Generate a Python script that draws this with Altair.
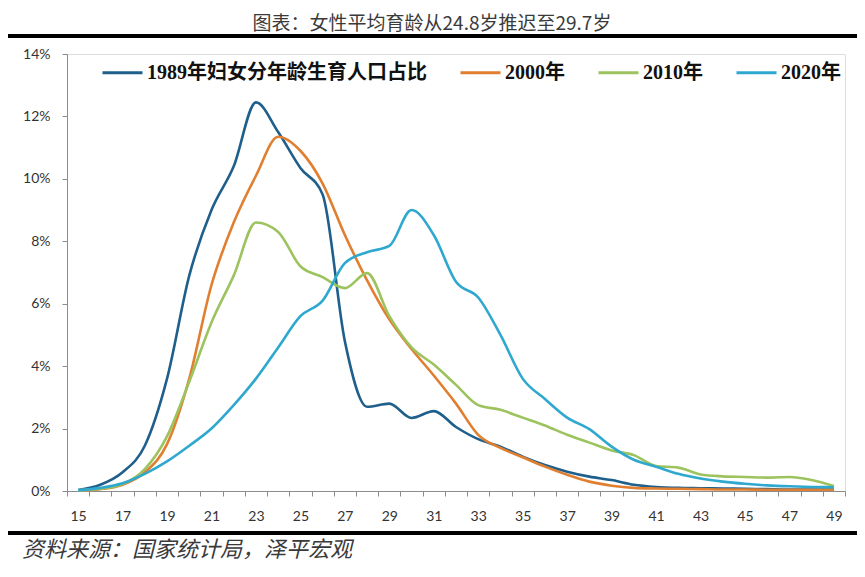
import altair as alt
import pandas as pd

# ---------------- data ----------------
ages = list(range(15, 50))
series_names = ["1989年妇女分年龄生育人口占比", "2000年", "2010年", "2020年"]
series_colors = ["#1F5F8B", "#E07F30", "#9CC35E", "#2FA8CF"]

# values in percent, ages 15..49
v1989 = [0.03, 0.2, 0.6, 1.45, 3.6, 6.9, 9.0, 10.4, 12.45, 11.5, 10.35, 9.5, 4.8, 2.7, 2.8,
         2.34, 2.56, 2.05, 1.66, 1.42, 1.1, 0.83, 0.62, 0.46, 0.35, 0.2, 0.13, 0.1, 0.09,
         0.08, 0.07, 0.06, 0.05, 0.05, 0.05]
v2000 = [0.02, 0.06, 0.2, 0.6, 1.5, 3.6, 6.6, 8.6, 10.1, 11.35, 10.9, 9.85, 8.2, 6.75, 5.5,
         4.55, 3.7, 2.8, 1.8, 1.38, 1.08, 0.78, 0.52, 0.3, 0.17, 0.1, 0.08, 0.07, 0.06,
         0.05, 0.05, 0.04, 0.04, 0.04, 0.04]
v2010 = [0.02, 0.07, 0.22, 0.7, 1.75, 3.5, 5.4, 6.9, 8.6, 8.3, 7.2, 6.85, 6.5, 6.98, 5.6,
         4.6, 4.05, 3.4, 2.75, 2.6, 2.35, 2.1, 1.8, 1.55, 1.3, 1.15, 0.8, 0.75, 0.53,
         0.47, 0.45, 0.43, 0.45, 0.35, 0.16]
v2020 = [0.02, 0.1, 0.25, 0.55, 0.95, 1.45, 2.0, 2.75, 3.6, 4.6, 5.6, 6.1, 7.3, 7.65, 7.85,
         9.0, 8.2, 6.7, 6.2, 5.0, 3.6, 2.95, 2.35, 1.98, 1.42, 1.0, 0.78, 0.55, 0.4,
         0.3, 0.23, 0.18, 0.15, 0.13, 0.12]

y_ticks = [0, 0.02, 0.04, 0.06, 0.08, 0.10, 0.12, 0.14]
x_boundaries = [a - 0.5 for a in range(15, 51)]

title_text = "图表：女性平均育龄从24.8岁推迟至29.7岁"
source_text = "资料来源：国家统计局，泽平宏观"

rows = []
for name, vals in zip(series_names, [v1989, v2000, v2010, v2020]):
    for a, v in zip(ages, vals):
        rows.append({"age": a, "share": v / 100.0, "series": name})
df = pd.DataFrame(rows)

W, H = 778, 437
BAND = W / 35.0

lines = alt.Chart(df).mark_line(interpolate="monotone", strokeWidth=2.6).encode(
    x=alt.X(
        "age:Q",
        scale=alt.Scale(domain=[14.5, 49.5], nice=False, zero=False),
        axis=alt.Axis(
            values=x_boundaries,
            labelExpr="(datum.value + 0.5) % 2 == 1 ? '' + (datum.value + 0.5) : ''",
            labelOffset=BAND / 2,
            tickSize=5,
            labelPadding=13,
            grid=False,
            title=None,
            labelFlush=False,
            labelOverlap=False,
            labelBound=False,
            domainColor="#8c8c8c",
            tickColor="#8c8c8c",
            labelColor="#333333",
            labelFont="Lato",
            labelFontSize=14,
        ),
    ),
    y=alt.Y(
        "share:Q",
        scale=alt.Scale(domain=[0, 0.14], nice=False),
        axis=alt.Axis(
            values=y_ticks,
            format=".0%",
            tickSize=5,
            labelPadding=12,
            grid=False,
            title=None,
            domainColor="#8c8c8c",
            tickColor="#8c8c8c",
            labelColor="#333333",
            labelFont="Lato",
            labelFontSize=14,
        ),
    ),
    color=alt.Color(
        "series:N",
        sort=series_names,
        scale=alt.Scale(domain=series_names, range=series_colors),
        legend=alt.Legend(
            title=None,
            orient="none",
            legendX=34,
            legendY=-3,
            direction="horizontal",
            columns=4,
            symbolType="stroke",
            symbolStrokeWidth=3,
            symbolSize=1600,
            labelFont="Liberation Serif, Noto Sans CJK SC",
            labelFontWeight="bold",
            labelFontSize=20,
            labelColor="#111111",
            columnPadding=27,
            labelOffset=3,
            labelLimit=400,
        ),
    ),
)

one = pd.DataFrame({"t": [title_text]})
title = alt.Chart(one).mark_text(
    font="Noto Sans CJK SC", fontSize=19, color="#3a3a3a", align="center", baseline="alphabetic"
).encode(text="t:N", x=alt.value(365), y=alt.value(-24))

src = alt.Chart(pd.DataFrame({"t": [source_text]})).mark_text(
    font="Noto Sans CJK SC", fontSize=22, fontStyle="italic", color="#3a3a3a",
    align="left", baseline="alphabetic"
).encode(text="t:N", x=alt.value(-45), y=alt.value(503))

rule_df = pd.DataFrame({"k": [0]})
top_rule = alt.Chart(rule_df).mark_rule(color="#000000", strokeWidth=4).encode(
    x=alt.value(-59), x2=alt.value(790), y=alt.value(-18)
)
bottom_rule = alt.Chart(rule_df).mark_rule(color="#000000", strokeWidth=4).encode(
    x=alt.value(-59), x2=alt.value(790), y=alt.value(479)
)

chart = alt.layer(lines, top_rule, bottom_rule, title, src).properties(
    width=W,
    height=H,
    autosize=alt.AutoSizeParams(type="none"),
    padding={"left": 59, "top": 46, "right": 12, "bottom": 73},
).configure_view(stroke=None).configure(background="white")

chart.save("out.html", embed_options={"renderer": "svg", "actions": False})
